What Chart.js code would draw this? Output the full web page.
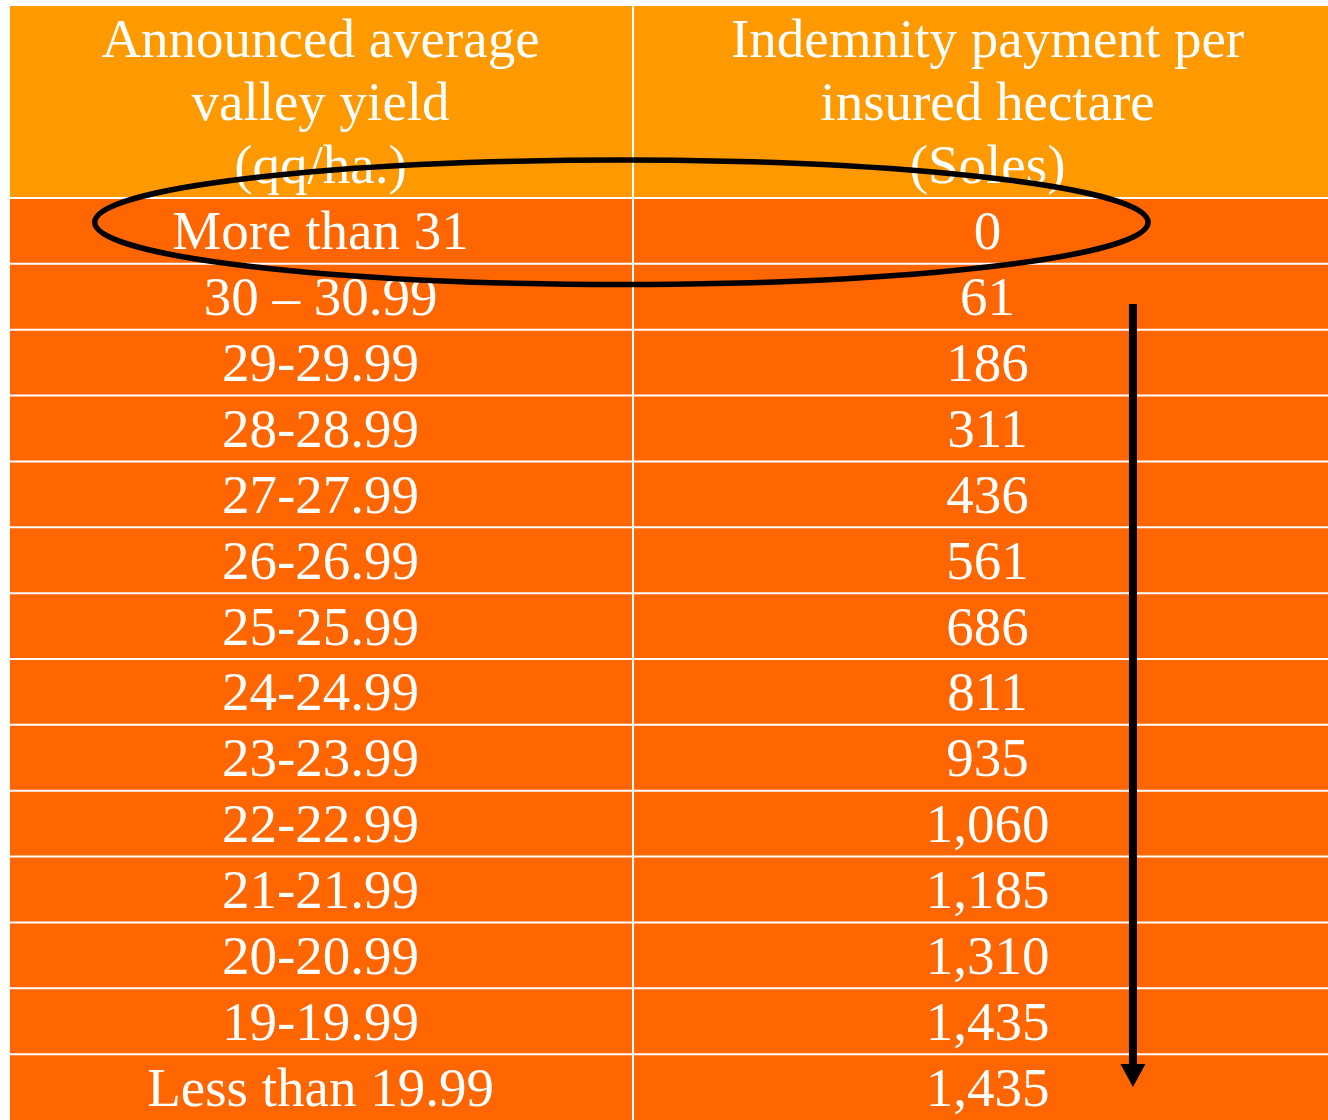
<!DOCTYPE html>
<html>
<head>
<meta charset="utf-8">
<title>Indemnity payment table</title>
<script src="https://cdn.jsdelivr.net/npm/chart.js@4.4.1/dist/chart.umd.min.js"></script>
<style>
    html, body { margin: 0; padding: 0; background: #ffffff; }
    #wrap { width: 1328px; height: 1120px; }
</style>
</head>
<body>
<div id="wrap"><canvas id="tabela"></canvas></div>
<script>
// Dados da tabela
const tituloEsquerda = ['Announced average', 'valley yield', '(qq/ha.)'];
const tituloDireita = ['Indemnity payment per', 'insured hectare', '(Soles)'];
const faixasRendimento = [
    'More than 31', '30 \u2013 30.99', '29-29.99', '28-28.99', '27-27.99',
    '26-26.99', '25-25.99', '24-24.99', '23-23.99', '22-22.99',
    '21-21.99', '20-20.99', '19-19.99', 'Less than 19.99'
];
const indenizacao = [0, 61, 186, 311, 436, 561, 686, 811, 935, 1060, 1185, 1310, 1435, 1435];

// Estilo
const corCabecalho = '#FF9900';
const corLinha = '#FF6600';
const fonteTabela = '55px "Liberation Serif", "Times New Roman", serif';
const divisorColuna = 47.27;    // posição do divisor no eixo x (0-100)
const centroEsquerda = 23.56;
const centroDireita = 74.17;
const topoCabecalho = -2.915;   // cabeçalho ocupa de -2.915 até 0 no eixo y

function formatar(v) {
    return v.toLocaleString('en-US');
}

const pluginTabela = {
    id: 'pluginTabela',
    afterDraw(chart) {
        const ctx = chart.ctx;
        const x = chart.scales.x;
        const y = chart.scales.y;
        const esq = x.getPixelForValue(0);
        const dir = x.getPixelForValue(100);
        const yTopo = y.getPixelForValue(topoCabecalho);
        const y0 = y.getPixelForValue(0);
        const yFim = y.getPixelForValue(faixasRendimento.length);

        ctx.save();

        // Fundo do cabeçalho e das linhas
        ctx.fillStyle = corCabecalho;
        ctx.fillRect(esq, yTopo, dir - esq, y0 - yTopo);
        faixasRendimento.forEach((_, i) => {
            const a = y.getPixelForValue(i);
            const b = y.getPixelForValue(i + 1);
            ctx.fillStyle = corLinha;
            ctx.fillRect(esq, a, dir - esq, b - a);
        });

        // Grade branca
        ctx.strokeStyle = '#ffffff';
        ctx.lineWidth = 2;
        for (let i = 0; i < faixasRendimento.length; i++) {
            const p = y.getPixelForValue(i);
            ctx.beginPath();
            ctx.moveTo(esq, p);
            ctx.lineTo(dir, p);
            ctx.stroke();
        }
        const xd = x.getPixelForValue(divisorColuna);
        ctx.beginPath();
        ctx.moveTo(xd, yTopo);
        ctx.lineTo(xd, yFim);
        ctx.stroke();

        // Textos
        ctx.fillStyle = '#ffffff';
        ctx.font = fonteTabela;
        ctx.textAlign = 'center';
        ctx.textBaseline = 'alphabetic';
        const xe = x.getPixelForValue(centroEsquerda);
        const xr = x.getPixelForValue(centroDireita);
        const meioCab = (yTopo + y0) / 2;
        tituloEsquerda.forEach((t, k) => {
            ctx.fillText(t, xe, meioCab + 18 + (k - 1) * 63);
        });
        tituloDireita.forEach((t, k) => {
            ctx.fillText(t, xr, meioCab + 18 + (k - 1) * 63);
        });
        faixasRendimento.forEach((faixa, i) => {
            const meio = y.getPixelForValue(i + 0.5);
            ctx.fillText(faixa, xe, meio + 18.5);
            ctx.fillText(formatar(indenizacao[i]), xr, meio + 18.5);
        });

        // Elipse destacando a primeira linha
        const cx = x.getPixelForValue(46.39);
        const cy = y.getPixelForValue(0.368);
        const rx = x.getPixelForValue(46.39 + 39.96) - cx;
        const ry = y.getPixelForValue(0.368 + 0.945) - cy;
        ctx.strokeStyle = '#000000';
        ctx.lineWidth = 5.5;
        ctx.beginPath();
        ctx.ellipse(cx, cy, rx, ry, 0, 0, Math.PI * 2);
        ctx.stroke();

        // Seta para baixo
        const xs = x.getPixelForValue(85.2);
        const ys = y.getPixelForValue(1.61);
        const yb = y.getPixelForValue(13.15);
        const yp = y.getPixelForValue(13.5);
        ctx.lineWidth = 8;
        ctx.beginPath();
        ctx.moveTo(xs, ys);
        ctx.lineTo(xs, yb + 2);
        ctx.stroke();
        ctx.fillStyle = '#000000';
        ctx.beginPath();
        ctx.moveTo(xs - 12.5, yb);
        ctx.lineTo(xs + 12.5, yb);
        ctx.lineTo(xs, yp);
        ctx.closePath();
        ctx.fill();

        ctx.restore();
    }
};

function criarTabela() {
    const ctx = document.getElementById('tabela').getContext('2d');
    new Chart(ctx, {
        type: 'scatter',
        data: { datasets: [] },
        options: {
            responsive: true,
            maintainAspectRatio: false,
            animation: false,
            layout: { padding: { left: 10, top: 6, right: 0, bottom: 0 } },
            plugins: {
                legend: { display: false },
                tooltip: { enabled: false },
                title: { display: false }
            },
            scales: {
                x: { type: 'linear', min: 0, max: 100, display: false },
                y: { type: 'linear', min: topoCabecalho, max: faixasRendimento.length, reverse: true, display: false }
            }
        },
        plugins: [pluginTabela]
    });
}

criarTabela();
</script>
</body>
</html>
